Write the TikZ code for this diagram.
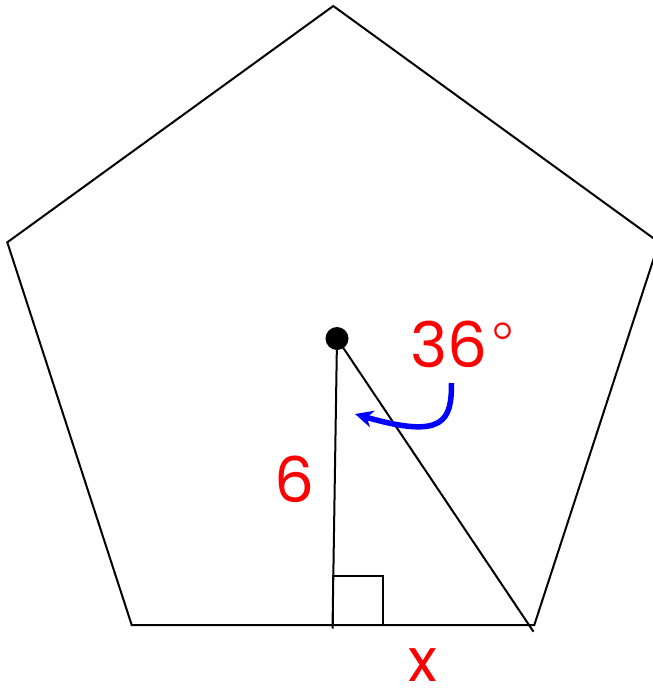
\documentclass[tikz,border=0pt]{standalone}
\usepackage{fontspec}
\setmainfont{Poppins}
\newfontfamily\degfont{DejaVu Sans ExtraLight}
\usetikzlibrary{arrows.meta}
\begin{document}
\begin{tikzpicture}[x=1pt,y=-1pt,
  edge/.style={line width=2pt,line join=miter},
  lbl/.style={text=red,font=\fontsize{63}{65}\selectfont,inner sep=0pt}]
\useasboundingbox (0,0) rectangle (653,689);
\clip (0,0) rectangle (653,689);
\coordinate (T) at (333.3,6);
\coordinate (L) at (7.3,242.3);
\coordinate (R) at (659,242.3);
\coordinate (BL) at (131.7,625);
\coordinate (BR) at (534.3,625);
\draw[edge] (T) -- (R) -- (BR) -- (BL) -- (L) -- cycle;
\coordinate (O) at (337,338.5);
\coordinate (F) at (332.5,628.5);
\coordinate (D) at (533.5,631.7);
\draw[edge] (O) -- (F);
\draw[edge] (O) -- (D);
\fill (O) circle (11.5);
\draw[line width=2pt] (333,625) |- (382.5,575.8) -- (382.5,625);
\node[lbl,anchor=base west] (a) at (410,367) {36{\degfont\fontsize{62}{64}\selectfont °}};
\node[lbl,anchor=center] (s) at (295,479) {6};
\node[lbl,anchor=center,font=\fontsize{60}{62}\selectfont] (x) at (422.5,665) {x};
\coordinate (A1) at (451.5,383);
\coordinate (A2) at (355,414);
\draw[blue,line width=5.5pt,-{Stealth[length=18pt,width=17pt]}] (A1) .. controls (451.5,420) and (445,440) .. (A2);
\end{tikzpicture}
\end{document}
